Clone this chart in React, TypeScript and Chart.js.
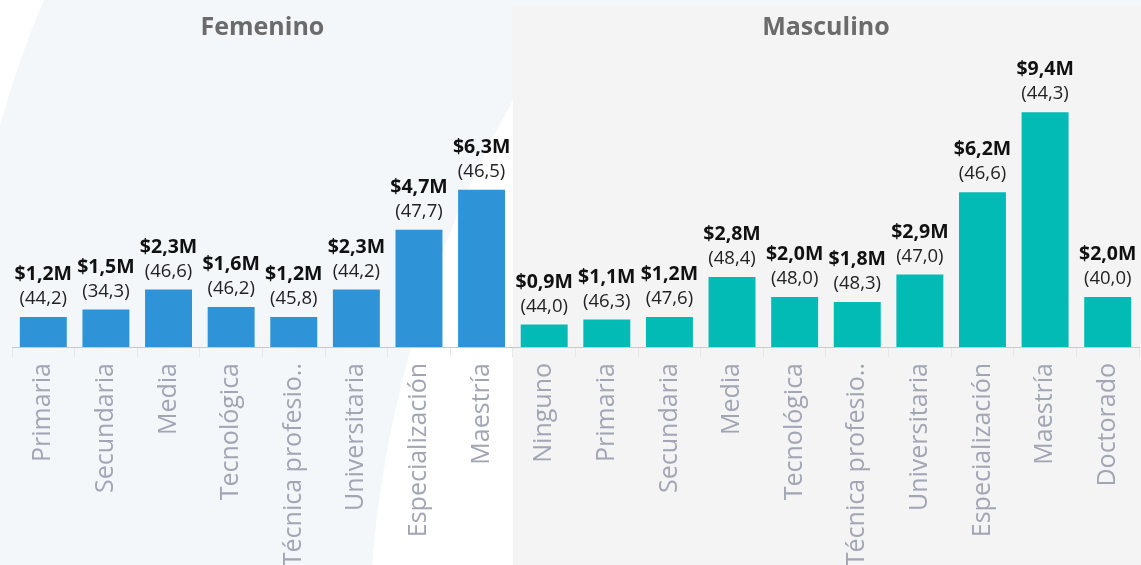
import React, { useEffect, useRef } from "react";
import { Chart, registerables } from "chart.js";
Chart.register(...registerables);

const femaleCategories = ["Primaria", "Secundaria", "Media", "Tecnológica", "Técnica profesio..", "Universitaria", "Especialización", "Maestría"];
const femaleIncome = [1.2, 1.5, 2.3, 1.6, 1.2, 2.3, 4.7, 6.3];
const femaleAge = [44.2, 34.3, 46.6, 46.2, 45.8, 44.2, 47.7, 46.5];

const maleCategories = ["Ninguno", "Primaria", "Secundaria", "Media", "Tecnológica", "Técnica profesio..", "Universitaria", "Especialización", "Maestría", "Doctorado"];
const maleIncome = [0.9, 1.1, 1.2, 2.8, 2.0, 1.8, 2.9, 6.2, 9.4, 2.0];
const maleAge = [44.0, 46.3, 47.6, 48.4, 48.0, 48.3, 47.0, 46.6, 44.3, 40.0];

const groupTitles = ["Femenino", "Masculino"];
const groupColors = ["#2f93d7", "#02bbb4"];
const yMax = 13.9;

const FONT = "'Open Sans', 'Noto Sans', sans-serif";

const fmt = (v: number) => v.toFixed(1).replace(".", ",");

export default function App() {
  const ref = useRef<HTMLCanvasElement | null>(null);

  useEffect(() => {
    if (!ref.current) return;
    const labels = [...femaleCategories, ...maleCategories];
    const values = [...femaleIncome, ...maleIncome];
    const ages = [...femaleAge, ...maleAge];
    const colors = [
      ...femaleCategories.map(() => groupColors[0]),
      ...maleCategories.map(() => groupColors[1]),
    ];
    const nF = femaleCategories.length;

    const bgPlugin = {
      id: "bgPanels",
      beforeDraw(chart: any) {
        const { ctx, width, height, chartArea } = chart;
        const x = chart.scales.x;
        const split = (x.getPixelForValue(nF - 1) + x.getPixelForValue(nF)) / 2;
        ctx.save();
        ctx.fillStyle = "#f3f7fa";
        ctx.fillRect(0, 0, width, height);
        ctx.fillStyle = "#ffffff";
        ctx.beginPath();
        ctx.moveTo(0, 0);
        ctx.lineTo(44, 0);
        ctx.quadraticCurveTo(18, 60, 0, 125);
        ctx.closePath();
        ctx.fill();
        ctx.beginPath();
        ctx.moveTo(372, height);
        ctx.quadraticCurveTo(392, 320, split, 100);
        ctx.lineTo(split, height);
        ctx.closePath();
        ctx.fill();
        ctx.fillStyle = "#f4f4f4";
        ctx.fillRect(split, 5, width - split, height - 5);

        ctx.fillStyle = "#6b6b6b";
        ctx.font = `bold 25px ${FONT}`;
        ctx.textAlign = "center";
        ctx.textBaseline = "alphabetic";
        ctx.fillText(groupTitles[0], (chartArea.left + split) / 2, 35);
        ctx.fillText(groupTitles[1], (split + chartArea.right) / 2, 35);
        ctx.restore();
      },
    };

    const labelPlugin = {
      id: "barLabels",
      afterDatasetsDraw(chart: any) {
        const { ctx } = chart;
        const meta = chart.getDatasetMeta(0);
        ctx.save();
        ctx.textAlign = "center";
        ctx.textBaseline = "alphabetic";
        meta.data.forEach((el: any, i: number) => {
          ctx.fillStyle = "#111111";
          ctx.font = `bold 19.5px ${FONT}`;
          ctx.fillText(`$${fmt(values[i])}M`, el.x, el.y - 37);
          ctx.fillStyle = "#222222";
          ctx.font = `18.5px ${FONT}`;
          ctx.fillText(`(${fmt(ages[i])})`, el.x, el.y - 13);
        });
        ctx.restore();
      },
    };

    const chart = new Chart(ref.current, {
      type: "bar",
      data: {
        labels,
        datasets: [
          {
            data: values,
            backgroundColor: colors,
            borderWidth: 0,
            categoryPercentage: 1,
            barPercentage: 0.75,
          },
        ],
      },
      options: {
        responsive: false,
        animation: false,
        layout: { padding: { left: 12, right: 2, top: 0, bottom: 0 } },
        plugins: {
          legend: { display: false },
          tooltip: { enabled: false },
          title: { display: false },
        },
        scales: {
          x: {
            offset: true,
            grid: {
              display: true,
              drawOnChartArea: false,
              drawTicks: true,
              tickLength: 10,
              color: "#e4e7eb",
              offset: true,
            },
            border: { display: true, color: "#c9c9c9", dash: [3, 3], width: 1 },
            ticks: {
              autoSkip: false,
              maxRotation: 90,
              minRotation: 90,
              padding: 6,
              color: "#a1a5b4",
              font: { family: FONT, size: 25, weight: "normal" as any },
            },
            afterFit(scale: any) {
              scale.height = 218;
              scale.paddingLeft = 0;
              scale.paddingRight = 0;
            },
          },
          y: {
            display: false,
            min: 0,
            max: yMax,
          },
        },
      },
      plugins: [bgPlugin, labelPlugin],
    });
    return () => chart.destroy();
  }, []);

  return (
    <div style={{ position: "fixed", left: 0, top: 0, width: 1141, height: 565 }}>
      <canvas ref={ref} width={1141} height={565} style={{ display: "block" }} />
    </div>
  );
}
